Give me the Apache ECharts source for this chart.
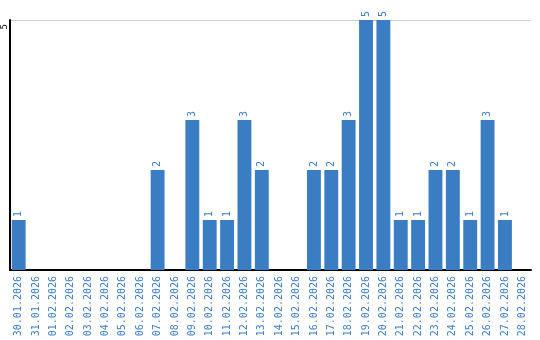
<!DOCTYPE html>
<html><head><meta charset="utf-8">
<script src="https://cdn.jsdelivr.net/npm/echarts@6/dist/echarts.min.js"></script>
<style>html,body{margin:0;padding:0;background:#fff}#c{width:540px;height:340px}</style>
</head><body><div id="c"></div>
<script>
const categories = ["30.01.2026","31.01.2026","01.02.2026","02.02.2026","03.02.2026","04.02.2026","05.02.2026","06.02.2026","07.02.2026","08.02.2026","09.02.2026","10.02.2026","11.02.2026","12.02.2026","13.02.2026","14.02.2026","15.02.2026","16.02.2026","17.02.2026","18.02.2026","19.02.2026","20.02.2026","21.02.2026","22.02.2026","23.02.2026","24.02.2026","25.02.2026","26.02.2026","27.02.2026","28.02.2026"];
const counts = [1,0,0,0,0,0,0,0,2,0,3,1,1,3,2,0,0,2,2,3,5,5,1,1,2,2,1,3,1,0];
const yTicks = [0,5];
const chart = echarts.init(document.getElementById('c'), null, {renderer:'canvas'});
const font = 'DejaVu Sans Mono';
chart.setOption({
  animation:false,
  grid:{left:10,right:9,top:20,bottom:70,containLabel:false,outerBoundsMode:'none'},
  xAxis:{type:'category',data:categories,
    axisLine:{lineStyle:{color:'#000',width:2}},
    axisTick:{show:false},
    axisLabel:{rotate:90,interval:0,color:'#3a7cc4',fontFamily:font,fontSize:10,margin:6}},
  yAxis:{type:'value',min:yTicks[0],max:yTicks[1],interval:5,
    axisLine:{show:true,lineStyle:{color:'#000',width:2}},
    axisTick:{show:false},
    splitLine:{lineStyle:{color:'#cccccc',width:1}},
    axisLabel:{rotate:90,color:'#000',fontFamily:font,fontSize:9,margin:5,align:'right',verticalAlign:'middle',padding:[0,4,0,0],
      formatter:v=>v===0?'':String(v)}},
  series:[{type:'bar',data:counts,barCategoryGap:'20%',
    itemStyle:{color:'#3b7dc3'},
    label:{show:true,position:'top',rotate:90,align:'left',verticalAlign:'middle',distance:3,
      color:'#3a7cc4',fontFamily:font,fontSize:10,
      formatter:p=>p.value===0?'':String(p.value)}}]
});
</script></body></html>
